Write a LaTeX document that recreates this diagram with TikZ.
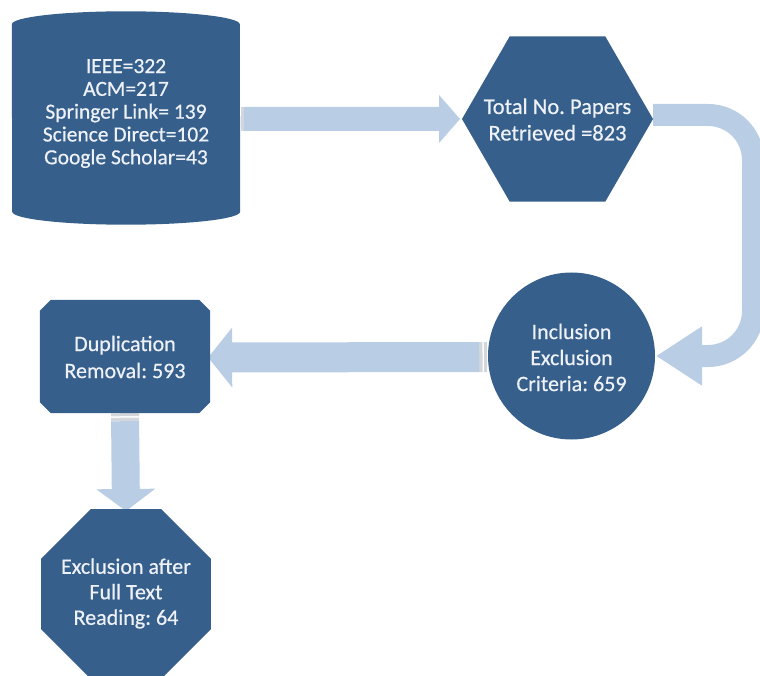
\documentclass[tikz,border=0pt]{standalone}
\usepackage{fontspec}
\setmainfont{Carlito}[FakeBold=0.5]
\usetikzlibrary{shapes.geometric,arrows.meta,calc}
\definecolor{boxblue}{HTML}{365F8B}
\definecolor{arrowblue}{HTML}{B9CDE5}
\definecolor{txtcol}{HTML}{EEF2F8}
\definecolor{stripecol}{HTML}{D3D6DA}
\pgfdeclarelayer{bg}
\pgfsetlayers{bg,main}
% striped block arrow: #1 tail, #2 tip, #3 half shaft, #4 half head, #5 head length
\newcommand\stripedarrow[5]{%
  \coordinate (sa-base) at ($(#2)!#5!(#1)$);
  \coordinate (sa-a) at ($(#1)!3pt!(#2)$);
  \coordinate (sa-b) at ($(#1)!4.5pt!(#2)$);
  \coordinate (sa-c) at ($(#1)!8pt!(#2)$);
  \fill[stripecol] ($(#1)!#3!90:(#2)$) -- ($(sa-a)!#3!90:(#2)$) -- ($(sa-a)!#3!-90:(#2)$) -- ($(#1)!#3!-90:(#2)$) -- cycle;
  \fill[stripecol] ($(sa-b)!#3!90:(#2)$) -- ($(sa-c)!#3!90:(#2)$) -- ($(sa-c)!#3!-90:(#2)$) -- ($(sa-b)!#3!-90:(#2)$) -- cycle;
  \fill[arrowblue] ($(sa-c)!#3!90:(#2)$) -- ($(sa-base)!#3!90:(#2)$) -- ($(sa-base)!#4!90:(#2)$) -- (#2)
     -- ($(sa-base)!#4!-90:(#2)$) -- ($(sa-base)!#3!-90:(#2)$) -- ($(sa-c)!#3!-90:(#2)$) -- cycle;
}
\begin{document}
\frenchspacing
\begin{tikzpicture}[x=1pt,y=-1pt,
  shapebox/.style={fill=boxblue,draw=none,inner sep=0pt,outer sep=0pt},
  textonly/.style={text=txtcol,align=center,inner sep=0pt,font=\fontsize{22.5}{26.5}\selectfont},
  hexshape/.style={shapebox,regular polygon,regular polygon sides=6,minimum size=191pt},
  octshape/.style={shapebox,regular polygon,regular polygon sides=8,minimum size=184pt},
  circshape/.style={shapebox,circle,minimum size=167pt},
  uarrow/.style={draw=arrowblue,line width=22pt,rounded corners=45pt,
    -{Triangle[width=56pt,length=46pt]}}]
\useasboundingbox (0,0) rectangle (760,676);

% shapes
\node[inner sep=0pt,minimum width=228pt,minimum height=213pt] (db) at (126,118) {};
\node[hexshape] (hex) at (557.5,119) {};
\node[circshape] (inc) at (571.5,356) {};
\node[inner sep=0pt,minimum width=170pt,minimum height=113pt] (dup) at (125,356.5) {};
\node[octshape] (oct) at (126,594) {};
% texts
\node[textonly,font=\fontsize{21.5}{22.8}\selectfont] (dbtext) at (db.center |- 0,113.5)
  {IEEE=322\\ACM=217\\Springer Link= 139\\Science Direct=102\\Google Scholar=43};
\node[textonly] (hextext) at (557.5,119.5) {Total No. Papers\\Retrieved =823};
\node[textonly,font=\fontsize{22}{26}\selectfont] (inctext) at (571.5,357.5) {Inclusion\\Exclusion\\Criteria: 659};
\node[textonly,font=\fontsize{22}{27}\selectfont] (duptext) at (125,357) {Duplication\\Removal: 593};
\node[textonly,font=\fontsize{22}{25.5}\selectfont] (octtext) at (126,593.5) {Exclusion after\\Full Text\\Reading: 64};

\begin{pgfonlayer}{bg}
  % connectors
  \stripedarrow{$(db.east |- hex.center)+(-4,0)$}{$(hex.west)+(-2,0)$}{12pt}{24pt}{21pt}
  \stripedarrow{$(inc.west)+(-1,1)$}{$(dup.east)+(-2,1)$}{15pt}{30pt}{24pt}
  \stripedarrow{dup.south}{$(oct.north)+(0,2)$}{14pt}{29.5pt}{22pt}
  \draw[uarrow] ($(hex.east)+(0,-4)$) -- ($(hex.east)+(100,-4)$) -- ($(inc.east)+(98,0)$) -- ($(inc.east)+(1,0)$);
  % cylinder body
  \fill[boxblue] ($(db.north west)+(0,13)$) arc[start angle=180,end angle=360,x radius=114,y radius=13]
     -- ($(db.south east)+(0,-13)$) arc[start angle=0,end angle=180,x radius=114,y radius=13] -- cycle;
  % chamfered box
  \fill[boxblue] ($(dup.north west)+(11,0)$) -- ($(dup.north east)+(-11,0)$) -- ($(dup.north east)+(0,11)$)
     -- ($(dup.south east)+(0,-11)$) -- ($(dup.south east)+(-11,0)$) -- ($(dup.south west)+(11,0)$)
     -- ($(dup.south west)+(0,-11)$) -- ($(dup.north west)+(0,11)$) -- cycle;
\end{pgfonlayer}
\end{tikzpicture}
\end{document}
